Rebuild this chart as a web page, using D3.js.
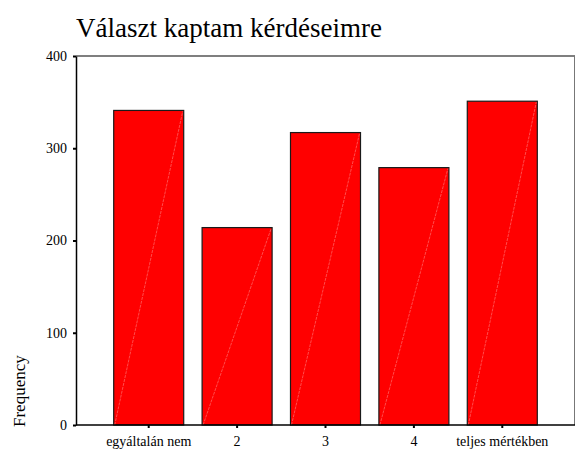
<!DOCTYPE html>
<html>
<head>
<meta charset="utf-8">
<script src="https://cdn.jsdelivr.net/npm/d3@7"></script>
<style>
  body { margin: 0; background: #fff; }
  svg text { font-family: "Liberation Serif", "DejaVu Serif", serif; fill: #000; }
</style>
</head>
<body>
<div id="chart"></div>
<script>
// data
var categories = ["egyáltalán nem", "2", "3", "4", "teljes mértékben"];
var frequencies = [341, 214, 317, 279, 351];
var yTicks = [0, 100, 200, 300, 400];

var width = 576, height = 451;
var margin = { top: 56, right: 1, bottom: 26, left: 76 };

var svg = d3.select("#chart")
    .append("svg")
    .attr("width", width)
    .attr("height", height);

var x = d3.scaleBand()
    .domain(categories)
    .range([margin.left, width - margin.right])
    .paddingInner(0.208)
    .paddingOuter(0.4265);

var y = d3.scaleLinear()
    .domain([0, 400])
    .range([height - margin.bottom, margin.top]);

// title
svg.append("text")
    .attr("x", 76)
    .attr("y", 37)
    .style("font-size", "27px")
    .text("Választ kaptam kérdéseimre");

// frame (top and right)
svg.append("line")
    .attr("x1", margin.left).attr("x2", width - margin.right)
    .attr("y1", y(400)).attr("y2", y(400))
    .attr("stroke", "#000").attr("stroke-width", 1.2);
svg.append("line")
    .attr("x1", width - margin.right - 0.5).attr("x2", width - margin.right - 0.5)
    .attr("y1", y(400)).attr("y2", y(0))
    .attr("stroke", "#777").attr("stroke-width", 1);

// bars
var bars = svg.append("g");
bars.selectAll("rect")
    .data(frequencies)
    .enter()
    .append("rect")
    .attr("x", function (d, i) { return x(categories[i]); })
    .attr("y", function (d) { return y(d); })
    .attr("width", x.bandwidth())
    .attr("height", function (d) { return y(0) - y(d); })
    .attr("fill", "#ff0000")
    .attr("stroke", "#1a1a1a")
    .attr("stroke-width", 1.2);

// thin diagonal highlight in each bar
bars.selectAll("line")
    .data(frequencies)
    .enter()
    .append("line")
    .attr("x1", function (d, i) { return x(categories[i]) + 1; })
    .attr("y1", y(0))
    .attr("x2", function (d, i) { return x(categories[i]) + x.bandwidth() - 1; })
    .attr("y2", function (d) { return y(d) + 1; })
    .attr("stroke", "#ff8080")
    .attr("stroke-width", 0.6)
    .attr("stroke-dasharray", "3,1");

// y axis
svg.append("g")
    .attr("transform", "translate(" + margin.left + ",0)")
    .call(d3.axisLeft(y).tickValues(yTicks).tickSize(3).tickPadding(6).tickSizeOuter(0))
    .call(function (g) { g.select(".domain").attr("stroke-width", 1.5); })
    .call(function (g) { g.selectAll(".tick line").attr("stroke-width", 2); })
    .call(function (g) { g.selectAll(".tick text").style("font-size", "14px").attr("font-family", null); });

// x axis
svg.append("g")
    .attr("transform", "translate(0," + y(0) + ")")
    .call(d3.axisBottom(x).tickSize(3).tickPadding(8).tickSizeOuter(0))
    .call(function (g) {
        g.select(".domain")
            .attr("d", "M" + margin.left + ",0H" + (width - margin.right))
            .attr("stroke-width", 1.5);
    })
    .call(function (g) { g.selectAll(".tick line").attr("stroke-width", 2); })
    .call(function (g) { g.selectAll(".tick text").style("font-size", "14px").attr("font-family", null); });

// y axis title
svg.append("text")
    .attr("transform", "translate(25,427) rotate(-90)")
    .attr("text-anchor", "start")
    .style("font-size", "17px")
    .text("Frequency");
</script>
</body>
</html>
